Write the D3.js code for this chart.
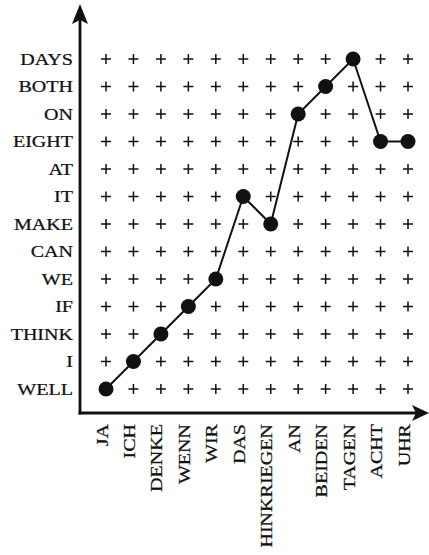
<!DOCTYPE html>
<html>
<head>
<meta charset="utf-8">
<script src="https://cdn.jsdelivr.net/npm/d3@7"></script>
<style>
  body { margin: 0; background: #fff; }
  text { font-family: "Liberation Serif", "Times New Roman", serif; font-size: 17px; fill: #111; stroke: #111; stroke-width: 0.25; }
</style>
</head>
<body>
<div id="chart"></div>
<script>
// source words (x) and target words (y, bottom to top)
var xWords = ["JA", "ICH", "DENKE", "WENN", "WIR", "DAS", "HINKRIEGEN", "AN", "BEIDEN", "TAGEN", "ACHT", "UHR"];
var yWords = ["WELL", "I", "THINK", "IF", "WE", "CAN", "MAKE", "IT", "AT", "EIGHT", "ON", "BOTH", "DAYS"];
// aligned target word for each source word
var alignment = ["WELL", "I", "THINK", "IF", "WE", "IT", "MAKE", "ON", "BOTH", "DAYS", "EIGHT", "EIGHT"];

var width = 429, height = 555;
var axisX = 80, axisY = 413;

var svg = d3.select("#chart").append("svg")
	.attr("width", width)
	.attr("height", height);

var x = d3.scalePoint().domain(xWords).range([106, 408]);
var y = d3.scalePoint().domain(yWords).range([389, 59]);

var links = xWords.map(function(w, i) { return {src: w, tgt: alignment[i]}; });

//grid of crosses, skipped where a dot sits
var cells = [];
xWords.forEach(function(xw) {
	yWords.forEach(function(yw) {
		var hit = links.some(function(d) { return d.src == xw && d.tgt == yw; });
		if (!hit) cells.push({x: xw, y: yw});
	});
});

var cs = 5;
svg.append("g").selectAll(".cross")
	.data(cells)
	.enter()
	.append("path")
	.attr("class", "cross")
	.attr("d", function(d) {
		var cx = x(d.x), cy = y(d.y);
		return "M" + (cx - cs) + "," + cy + "H" + (cx + cs) + "M" + cx + "," + (cy - cs) + "V" + (cy + cs);
	})
	.attr("stroke", "#111")
	.attr("stroke-width", 1.5)
	.attr("fill", "none");

//alignment path
var line = d3.line()
	.x(function(d) { return x(d.src); })
	.y(function(d) { return y(d.tgt); });

svg.append("path")
	.datum(links)
	.attr("d", line)
	.attr("fill", "none")
	.attr("stroke", "#111")
	.attr("stroke-width", 2);

svg.append("g").selectAll(".dot")
	.data(links)
	.enter()
	.append("circle")
	.attr("class", "dot")
	.attr("cx", function(d) { return x(d.src); })
	.attr("cy", function(d) { return y(d.tgt); })
	.attr("r", 7.5)
	.attr("fill", "#111");

//axes with arrow heads
svg.append("path")
	.attr("d", "M" + axisX + "," + (axisY + 1.4) + "V18")
	.attr("stroke", "#111").attr("stroke-width", 2.8).attr("fill", "none");
svg.append("path")
	.attr("d", "M" + (axisX - 1.4) + "," + axisY + "H418")
	.attr("stroke", "#111").attr("stroke-width", 2.8).attr("fill", "none");

svg.append("path")
	.attr("d", "M" + axisX + ",4 L" + (axisX + 8) + ",24 L" + axisX + ",20 L" + (axisX - 8) + ",24Z")
	.attr("fill", "#111");
svg.append("path")
	.attr("d", "M429," + axisY + " L412," + (axisY + 8) + " L416," + axisY + " L412," + (axisY - 8) + "Z")
	.attr("fill", "#111");

//labels, stretched a bit to get the wide roman look
var sx = 1.18;

svg.append("g").selectAll(".ylab")
	.data(yWords)
	.enter()
	.append("text")
	.attr("class", "ylab")
	.attr("text-anchor", "end")
	.attr("transform", function(d) { return "translate(73," + (y(d) + 5.5) + ") scale(" + sx + ",1)"; })
	.text(function(d) { return d; });

svg.append("g").selectAll(".xlab")
	.data(xWords)
	.enter()
	.append("text")
	.attr("class", "xlab")
	.attr("text-anchor", "end")
	.attr("transform", function(d) { return "translate(" + (x(d) + 1.5) + ",424) rotate(-90) scale(" + sx + ",1)"; })
	.text(function(d) { return d; });
</script>
</body>
</html>
